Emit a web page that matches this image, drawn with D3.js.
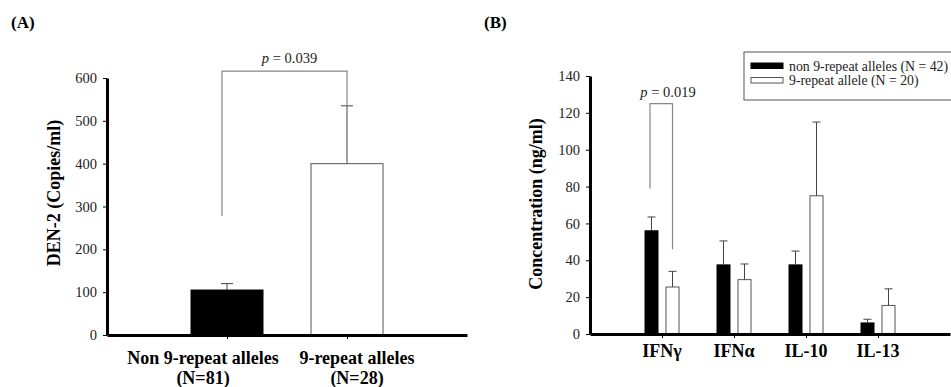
<!DOCTYPE html>
<html>
<head>
<meta charset="utf-8">
<script src="https://cdn.jsdelivr.net/npm/d3@7"></script>
<style>
  body { margin: 0; background: #fff; }
  svg text { font-family: "Liberation Serif", "Times New Roman", serif; }
</style>
</head>
<body>
<svg id="fig" width="951" height="387"></svg>
<script>
// panel A data
const groupsA = ["Non 9-repeat alleles", "9-repeat alleles"];
const groupsASub = ["(N=81)", "(N=28)"];
const meansA = [105, 400];
const errA = [120, 535];
const ticksA = [0, 100, 200, 300, 400, 500, 600];

// panel B data
const cytokines = ["IFNγ", "IFNα", "IL-10", "IL-13"];
const seriesNames = ["non 9-repeat alleles (N = 42)", "9-repeat allele (N = 20)"];
const nonRepeat = [56, 37.5, 37.5, 6];
const nonRepeatErr = [63.5, 50.5, 45, 8];
const repeat9 = [25.5, 29.5, 75, 15.5];
const repeat9Err = [34, 38, 115, 24.5];
const ticksB = [0, 20, 40, 60, 80, 100, 120, 140];

const svg = d3.select("#fig");
const axisColor = "#000", errColor = "#444", bracketColor = "#888";

function styleAxis(g) {
  g.attr("font-size", 14.5).attr("font-family", "Liberation Serif");
  g.select(".domain").attr("stroke", axisColor).attr("stroke-width", 3);
  g.selectAll(".tick line").attr("stroke", axisColor).attr("stroke-width", 1);
  g.selectAll(".tick text").attr("fill", "#222");
}

// ---------- panel A ----------
{
  const y = d3.scaleLinear().domain([0, 600]).range([335, 78]);
  const x = d3.scalePoint().domain(groupsA).range([107, 467]).padding(1);
  const bw = 72;
  const labelShift = [-24, 10];

  svg.append("text").attr("x", 11).attr("y", 28).attr("font-weight", "bold")
    .attr("font-size", 17).text("(A)");

  // bars
  svg.selectAll("rect.barA").data(groupsA).enter().append("rect")
    .attr("class", "barA")
    .attr("x", d => x(d) - bw / 2)
    .attr("y", (d, i) => y(meansA[i]))
    .attr("width", bw)
    .attr("height", (d, i) => y(0) - y(meansA[i]))
    .attr("fill", (d, i) => i === 0 ? "#000" : "#fff")
    .attr("stroke", (d, i) => i === 0 ? "#000" : "#555")
    .attr("stroke-width", 1);

  // error bars
  groupsA.forEach((g, i) => {
    svg.append("line").attr("x1", x(g)).attr("x2", x(g))
      .attr("y1", y(meansA[i])).attr("y2", y(errA[i]))
      .attr("stroke", errColor).attr("stroke-width", 1);
    svg.append("line").attr("x1", x(g) - 6).attr("x2", x(g) + 6)
      .attr("y1", y(errA[i])).attr("y2", y(errA[i]))
      .attr("stroke", errColor).attr("stroke-width", 1);
  });

  // significance bracket
  const bx1 = x(groupsA[0]) - 5, bx2 = x(groupsA[1]), top = y(616);
  svg.append("path")
    .attr("d", `M${bx1},${y(278)}V${top}H${bx2}V${y(errA[1])}`)
    .attr("fill", "none").attr("stroke", bracketColor).attr("stroke-width", 1.2);
  const pA = svg.append("text").attr("x", (bx1 + bx2) / 2 + 5).attr("y", top - 8)
    .attr("text-anchor", "middle").attr("font-size", 14.5).attr("fill", "#222");
  pA.append("tspan").attr("font-style", "italic").text("p");
  pA.append("tspan").text(" = 0.039");

  // axes
  svg.append("g").attr("transform", "translate(107,0)")
    .call(d3.axisLeft(y).tickValues(ticksA).tickSize(4).tickSizeOuter(0).tickPadding(6))
    .call(styleAxis);
  svg.append("g").attr("transform", "translate(0,335)")
    .call(d3.axisBottom(x).tickSize(4).tickSizeOuter(0).tickFormat(""))
    .call(styleAxis);

  groupsA.forEach((g, i) => {
    svg.append("text").attr("x", x(g) + labelShift[i]).attr("y", 364).attr("text-anchor", "middle")
      .attr("font-weight", "bold").attr("font-size", 18).text(g);
    svg.append("text").attr("x", x(g) + labelShift[i]).attr("y", 384).attr("text-anchor", "middle")
      .attr("font-weight", "bold").attr("font-size", 18).text(groupsASub[i]);
  });

  svg.append("text").attr("transform", "translate(60,193) rotate(-90)")
    .attr("text-anchor", "middle").attr("font-weight", "bold").attr("font-size", 18)
    .text("DEN-2 (Copies/ml)");
}

// ---------- panel B ----------
{
  const y = d3.scaleLinear().domain([0, 140]).range([334, 76]);
  const x = d3.scalePoint().domain(cytokines).range([590, 950]).padding(1);
  const bw = 13, off = 10.5;

  svg.append("text").attr("x", 484).attr("y", 28).attr("font-weight", "bold")
    .attr("font-size", 17).text("(B)");

  const series = [
    { vals: nonRepeat, errs: nonRepeatErr, dx: -off, fill: "#000", stroke: "#000" },
    { vals: repeat9, errs: repeat9Err, dx: off, fill: "#fff", stroke: "#555" }
  ];

  series.forEach(s => {
    svg.append("g").selectAll("rect").data(cytokines).enter().append("rect")
      .attr("x", d => x(d) + s.dx - bw / 2)
      .attr("y", (d, i) => y(s.vals[i]))
      .attr("width", bw)
      .attr("height", (d, i) => y(0) - y(s.vals[i]))
      .attr("fill", s.fill).attr("stroke", s.stroke).attr("stroke-width", 1);
    cytokines.forEach((c, i) => {
      const cx = x(c) + s.dx;
      svg.append("line").attr("x1", cx).attr("x2", cx)
        .attr("y1", y(s.vals[i])).attr("y2", y(s.errs[i]))
        .attr("stroke", errColor).attr("stroke-width", 1);
      svg.append("line").attr("x1", cx - 4).attr("x2", cx + 4)
        .attr("y1", y(s.errs[i])).attr("y2", y(s.errs[i]))
        .attr("stroke", errColor).attr("stroke-width", 1);
    });
  });

  // significance bracket on IFNγ
  const bx1 = x(cytokines[0]) - off - 1.5, bx2 = x(cytokines[0]) + off, top = y(125);
  svg.append("path")
    .attr("d", `M${bx1},${y(79)}V${top}H${bx2}V${y(46)}`)
    .attr("fill", "none").attr("stroke", bracketColor).attr("stroke-width", 1.2);
  const pB = svg.append("text").attr("x", 668).attr("y", top - 7)
    .attr("text-anchor", "middle").attr("font-size", 14.5).attr("fill", "#222");
  pB.append("tspan").attr("font-style", "italic").text("p");
  pB.append("tspan").text(" = 0.019");

  // axes
  svg.append("g").attr("transform", "translate(590,0)")
    .call(d3.axisLeft(y).tickValues(ticksB).tickSize(4).tickSizeOuter(0).tickPadding(6))
    .call(styleAxis);
  svg.append("g").attr("transform", "translate(0,334)")
    .call(d3.axisBottom(x).tickSize(4).tickSizeOuter(0).tickFormat(""))
    .call(styleAxis);

  cytokines.forEach(c => {
    svg.append("text").attr("x", x(c)).attr("y", 357).attr("text-anchor", "middle")
      .attr("font-weight", "bold").attr("font-size", 18).text(c);
  });

  svg.append("text").attr("transform", "translate(542,204) rotate(-90)")
    .attr("text-anchor", "middle").attr("font-weight", "bold").attr("font-size", 18)
    .text("Concentration (ng/ml)");

  // legend (box runs past the right edge, as in the original)
  const lg = svg.append("g");
  lg.append("rect").attr("x", 744).attr("y", 52).attr("width", 220).attr("height", 48)
    .attr("fill", "#fff").attr("stroke", "#555").attr("stroke-width", 1);
  series.forEach((s, i) => {
    const yy = 63 + i * 14.5;
    lg.append("rect").attr("x", 751).attr("y", yy).attr("width", 32).attr("height", 5.5)
      .attr("fill", s.fill).attr("stroke", s.stroke).attr("stroke-width", 1);
    lg.append("text").attr("x", 789).attr("y", yy + 7.5).attr("font-size", 13.8)
      .attr("fill", "#222").text(seriesNames[i]);
  });
}
</script>
</body>
</html>
